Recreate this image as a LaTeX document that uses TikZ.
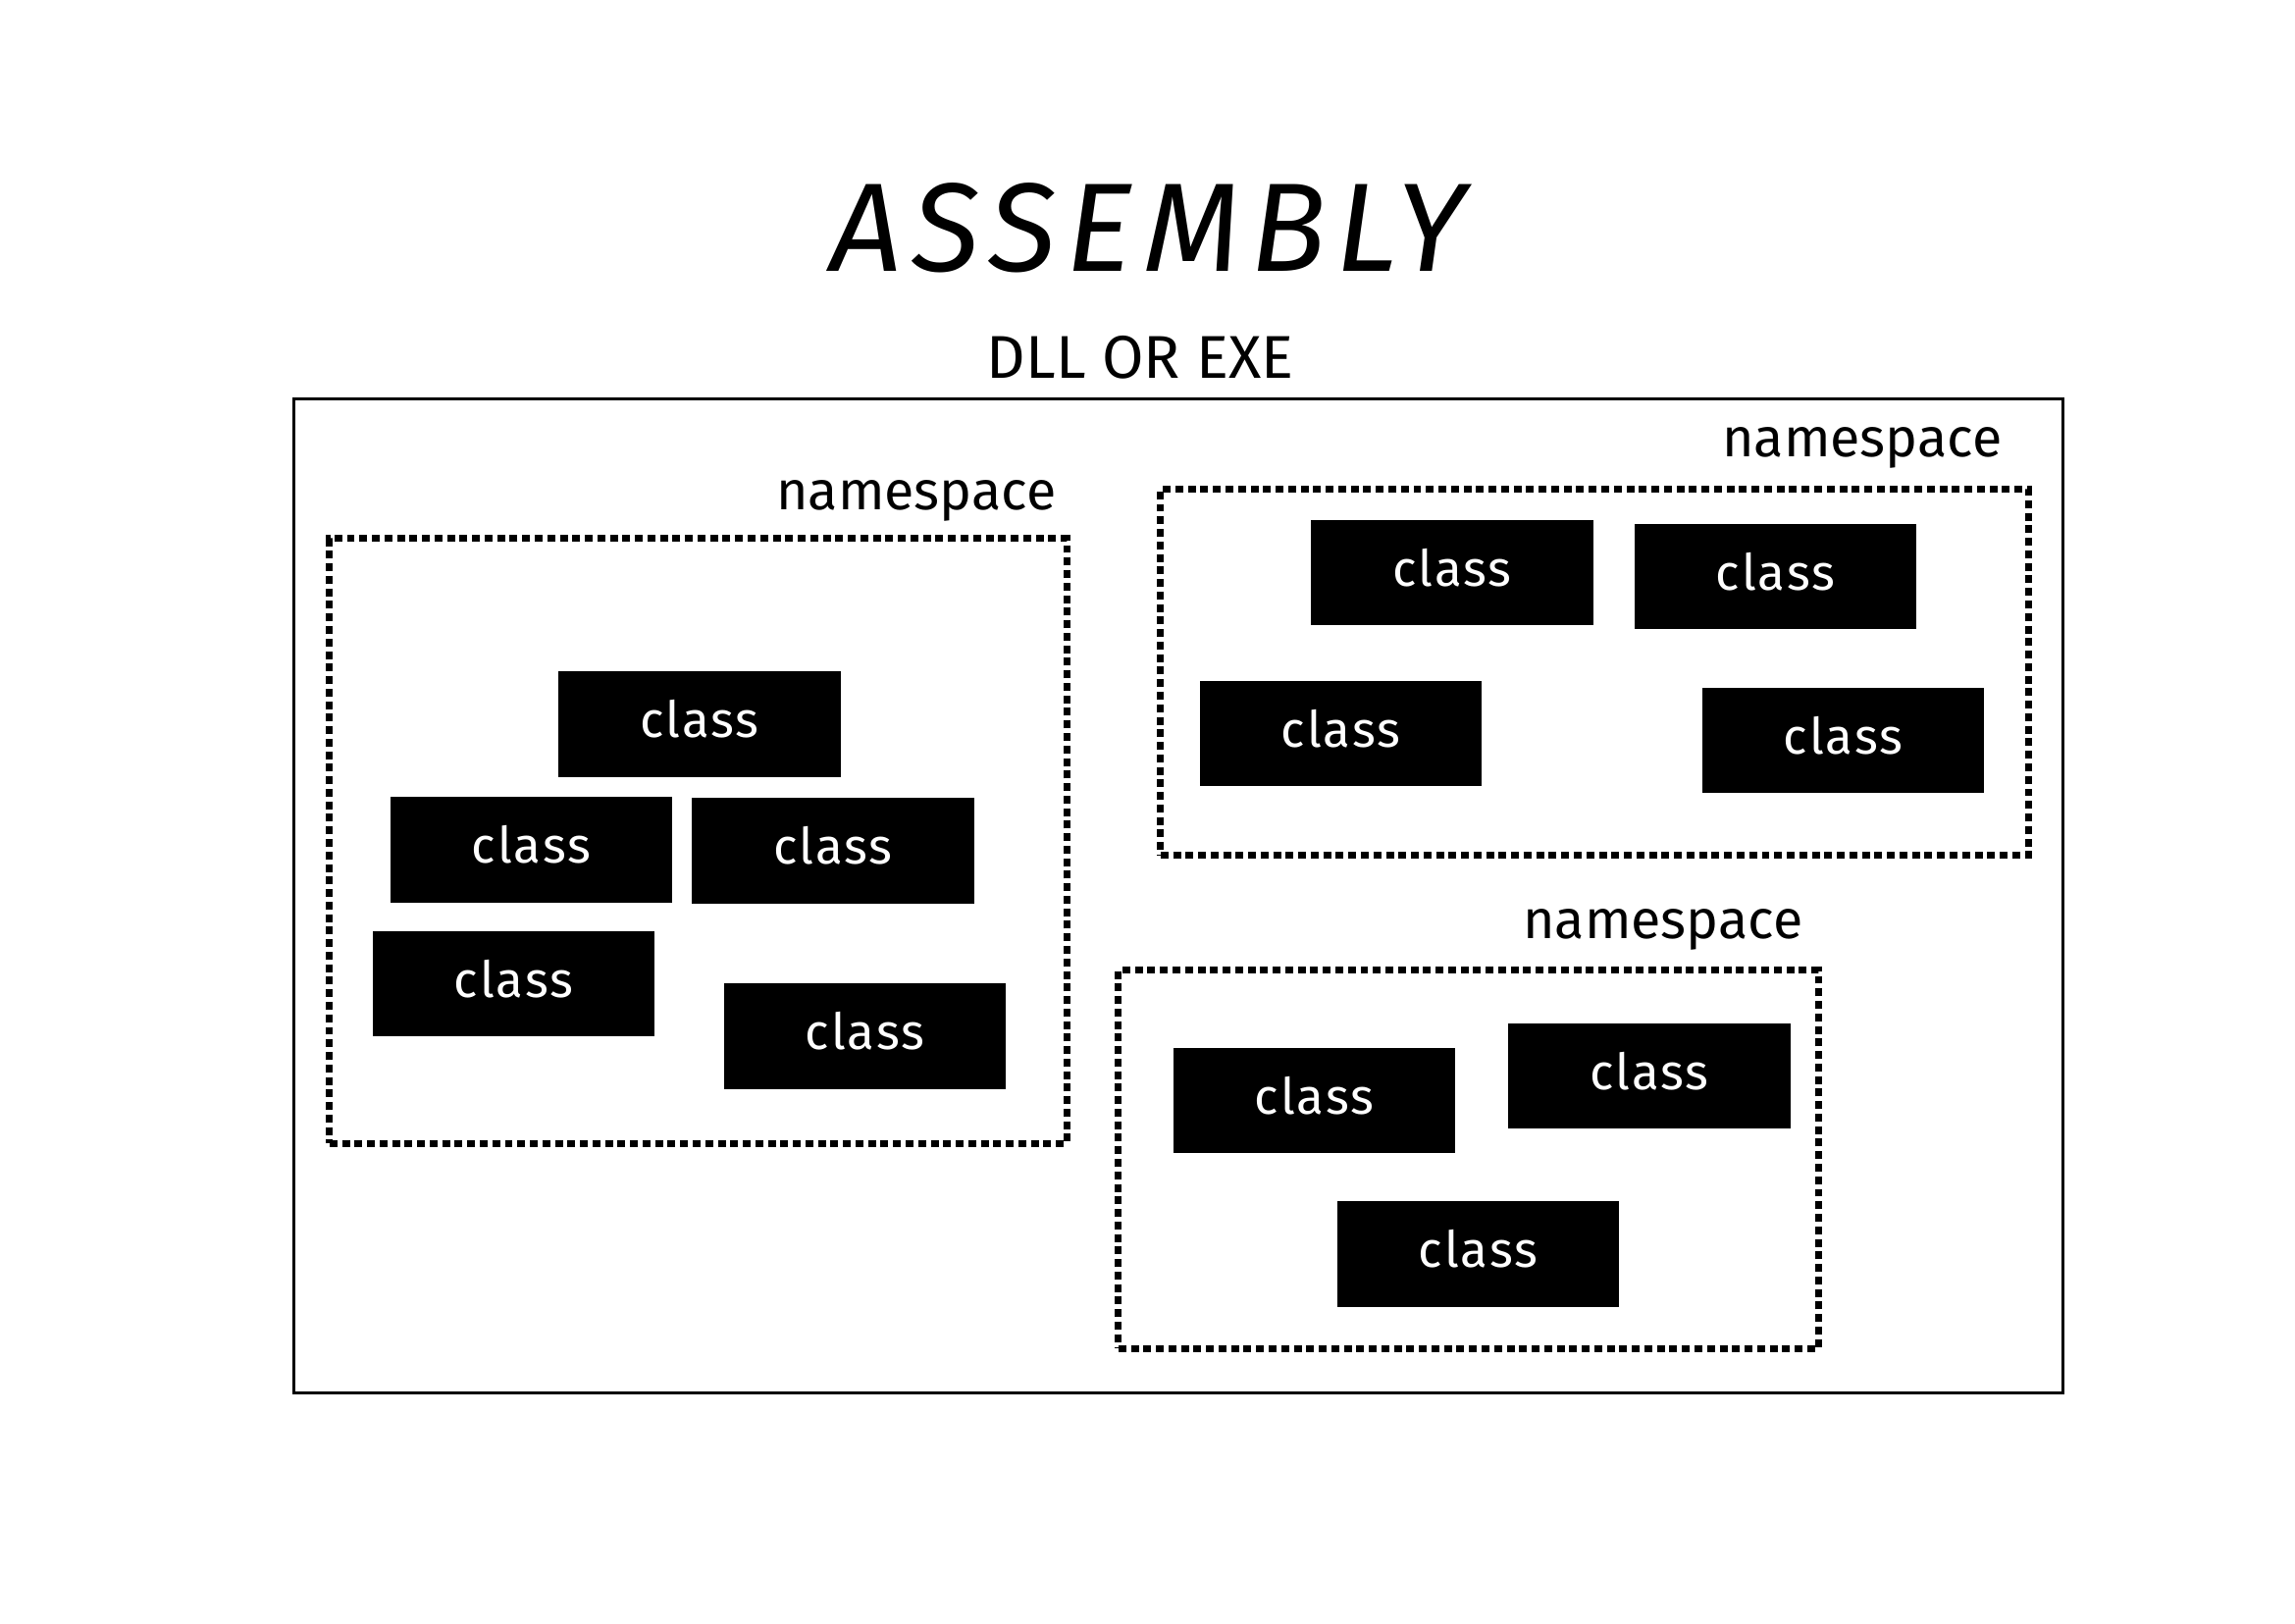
\documentclass[tikz,border=0pt]{standalone}
\usepackage{fontspec}
\setmainfont{Fira Sans}
\begin{document}
\begin{tikzpicture}[x=0.01cm,y=-0.01cm,
  classbox/.style={fill=black,text=white,minimum width=2.87cm,minimum height=1.07cm,inner sep=0pt,text height=10.5pt,text depth=2.6pt,font=\fontsize{14.5}{16}\selectfont\addfontfeature{LetterSpace=4}},
  nsbox/.style={draw=black,line width=2pt,dash pattern=on 2.27pt off 1.36pt,inner sep=0pt},
  nslabel/.style={font=\fontsize{15.8}{18}\selectfont,inner sep=0pt},
  outerbox/.style={draw=black,line width=0.9pt,inner sep=0pt}]
\useasboundingbox (0,0) rectangle (2339,1654);
% title
\node[font=\fontsize{36.5}{40}\selectfont\itshape\addfontfeature{LetterSpace=8},anchor=base,inner sep=0pt] (title) at (1170,276) {ASSEMBLY};
\node[font=\fontsize{17.5}{20}\selectfont,anchor=base,inner sep=0pt] (sub) at (1162,385) {DLL OR EXE};
% outer box
\node[outerbox,minimum width=18.02cm,minimum height=10.12cm] (asm) at (1201,913) {};
% namespaces
\node[nsbox,minimum width=7.51cm,minimum height=6.16cm] (ns1) at (711.5,857) {};
\node[nsbox,minimum width=8.84cm,minimum height=3.73cm] (ns2) at (1625,685) {};
\node[nsbox,minimum width=7.13cm,minimum height=3.85cm] (ns3) at (1496.5,1181.5) {};
\node[nslabel,anchor=base east] (ns1l) at (1077,519) {namespace};
\node[nslabel,anchor=base east] (ns2l) at (2041,465) {namespace};
\node[nslabel,anchor=base east] (ns3l) at (1838,956) {namespace};
% classes
\node[classbox] (c1) at (713,738) {class};
\node[classbox] (c2) at (541.5,866) {class};
\node[classbox] (c3) at (849,867) {class};
\node[classbox] (c4) at (523.5,1002.5) {class};
\node[classbox] (c5) at (881.5,1056) {class};
\node[classbox] (c6) at (1480,583.5) {class};
\node[classbox] (c7) at (1809.5,587.5) {class};
\node[classbox] (c8) at (1366.5,747.5) {class};
\node[classbox] (c9) at (1878.5,754.5) {class};
\node[classbox] (c10) at (1339.5,1121.5) {class};
\node[classbox] (c11) at (1681,1096.5) {class};
\node[classbox] (c12) at (1506.5,1278) {class};
\end{tikzpicture}
\end{document}
